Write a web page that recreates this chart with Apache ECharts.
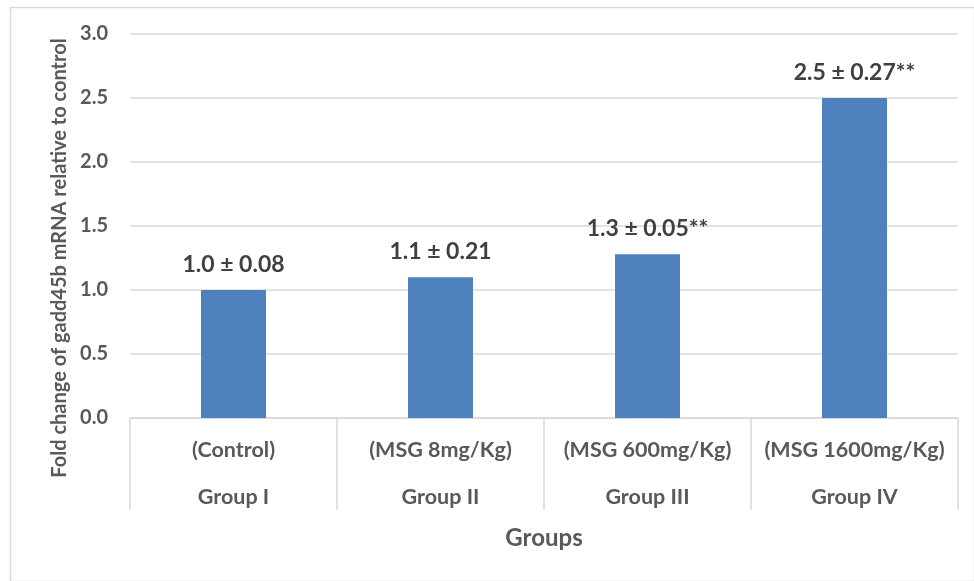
<!DOCTYPE html>
<html><head><meta charset="utf-8">
<script src="https://cdn.jsdelivr.net/npm/echarts@6/dist/echarts.min.js"></script>
<style>html,body{margin:0;padding:0;background:#fff}#c{width:974px;height:581px}</style>
</head><body><div id="c"></div>
<script>
const doses = ['(Control)', '(MSG 8mg/Kg)', '(MSG 600mg/Kg)', '(MSG 1600mg/Kg)'];
const groups = ['Group I', 'Group II', 'Group III', 'Group IV'];
const values = [1.0, 1.1, 1.28, 2.5];
const valueLabels = ['1.0 ± 0.08', '1.1 ± 0.21', '1.3 ± 0.05**', '2.5 ± 0.27**'];
const yTicks = [0, 0.5, 1.0, 1.5, 2.0, 2.5, 3.0];

const FONT = 'Lato';
const chart = echarts.init(document.getElementById('c'));
chart.setOption({
  animation: false,
  textStyle: { fontFamily: FONT },
  graphic: [{
    type: 'rect', left: 8, top: 5,
    shape: { width: 964, height: 574 },
    style: { fill: 'none', stroke: '#d9d9d9', lineWidth: 1.5 }
  }],
  grid: { left: 130, right: 16, top: 34, bottom: 163 },
  xAxis: {
    type: 'category',
    data: doses.map((d, i) => d + '\n' + groups[i]),
    axisLine: { lineStyle: { color: '#d9d9d9', width: 1.5 } },
    axisTick: { show: true, length: 92, interval: 0, lineStyle: { color: '#d9d9d9', width: 1.5 } },
    axisLabel: {
      interval: 0, margin: 9,
      color: '#595959', fontWeight: 'bold', fontSize: 21.5, fontFamily: FONT,
      lineHeight: 47
    },
    name: 'Groups', nameLocation: 'middle', nameGap: 102,
    nameTextStyle: { color: '#595959', fontWeight: 'bold', fontSize: 24, fontFamily: FONT }
  },
  yAxis: {
    type: 'value', min: 0, max: 3, interval: 0.5,
    axisLine: { show: false }, axisTick: { show: false },
    splitLine: { lineStyle: { color: '#d9d9d9', width: 1.5 } },
    axisLabel: {
      margin: 22, color: '#595959', fontWeight: 'bold', fontSize: 20, fontFamily: FONT,
      formatter: v => yTicks.includes(v) ? v.toFixed(1) : ''
    },
    name: 'Fold change of gadd45b mRNA relative to control',
    nameLocation: 'middle', nameGap: 60,
    nameTextStyle: { color: '#595959', fontWeight: 'bold', fontSize: 20, fontFamily: FONT, padding: [0, 64, 0, 0] }
  },
  series: [{
    type: 'bar', data: values, barWidth: 65,
    itemStyle: { color: '#4f81bd' },
    label: {
      show: true, position: 'top', distance: 14,
      formatter: p => valueLabels[p.dataIndex],
      color: '#404040', fontWeight: 'bold', fontSize: 23, fontFamily: FONT
    }
  }]
});
</script></body></html>
